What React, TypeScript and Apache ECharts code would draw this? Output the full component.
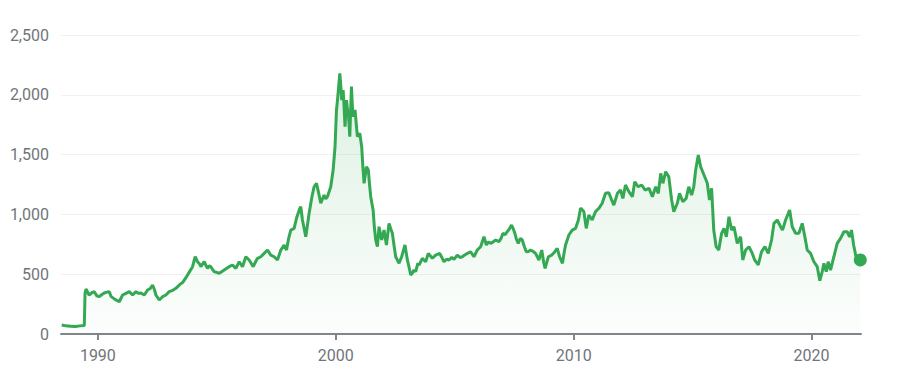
import React, { useEffect, useRef } from "react";
import * as echarts from "echarts";

const years: number[] = [
  1988.48, 1988.65, 1988.85, 1989.05, 1989.25, 1989.43, 1989.46, 1989.5, 1989.63, 1989.75, 1989.85, 1989.95,
  1990.06, 1990.17, 1990.27, 1990.38, 1990.48, 1990.55, 1990.65, 1990.76, 1990.9, 1991.04, 1991.18, 1991.32,
  1991.46, 1991.6, 1991.7, 1991.81, 1991.95, 1992.09, 1992.2, 1992.3, 1992.38, 1992.44, 1992.58, 1992.72,
  1992.86, 1993.0, 1993.15, 1993.28, 1993.45, 1993.56, 1993.68, 1993.77, 1993.88, 1993.98, 1994.09, 1994.19,
  1994.26, 1994.33, 1994.4, 1994.47, 1994.54, 1994.61, 1994.68, 1994.75, 1994.82, 1994.89, 1995.0, 1995.1,
  1995.2, 1995.31, 1995.42, 1995.52, 1995.66, 1995.8, 1995.94, 1996.08, 1996.22, 1996.36, 1996.45, 1996.53,
  1996.62, 1996.71, 1996.85, 1996.99, 1997.13, 1997.27, 1997.41, 1997.55, 1997.69, 1997.83, 1997.93, 1998.02,
  1998.11, 1998.25, 1998.35, 1998.49, 1998.53, 1998.6, 1998.74, 1998.88, 1999.0, 1999.09, 1999.19, 1999.28,
  1999.37, 1999.51, 1999.58, 1999.65, 1999.79, 1999.89, 1999.97, 2000.03, 2000.07, 2000.11, 2000.17, 2000.21,
  2000.25, 2000.31, 2000.35, 2000.39, 2000.45, 2000.49, 2000.53, 2000.59, 2000.66, 2000.7, 2000.73, 2000.81,
  2000.86, 2000.91, 2001.01, 2001.09, 2001.14, 2001.19, 2001.29, 2001.37, 2001.42, 2001.47, 2001.57, 2001.62,
  2001.68, 2001.75, 2001.82, 2001.93, 2002.03, 2002.13, 2002.24, 2002.31, 2002.38, 2002.45, 2002.52, 2002.66,
  2002.77, 2002.91, 2003.01, 2003.08, 2003.15, 2003.22, 2003.29, 2003.36, 2003.45, 2003.5, 2003.64, 2003.71,
  2003.78, 2003.89, 2004.06, 2004.2, 2004.37, 2004.46, 2004.55, 2004.66, 2004.76, 2004.88, 2004.97, 2005.11,
  2005.22, 2005.32, 2005.42, 2005.53, 2005.67, 2005.81, 2005.95, 2006.09, 2006.23, 2006.33, 2006.42, 2006.51,
  2006.62, 2006.72, 2006.86, 2006.95, 2007.03, 2007.12, 2007.21, 2007.3, 2007.39, 2007.46, 2007.53, 2007.6,
  2007.67, 2007.76, 2007.84, 2007.93, 2008.01, 2008.1, 2008.19, 2008.3, 2008.4, 2008.54, 2008.66, 2008.74,
  2008.8, 2008.87, 2008.94, 2009.08, 2009.21, 2009.31, 2009.41, 2009.53, 2009.6, 2009.66, 2009.8, 2009.94,
  2010.08, 2010.2, 2010.29, 2010.36, 2010.43, 2010.53, 2010.64, 2010.78, 2010.92, 2011.06, 2011.2, 2011.34,
  2011.48, 2011.6, 2011.69, 2011.84, 2011.97, 2012.07, 2012.18, 2012.32, 2012.47, 2012.57, 2012.71, 2012.86,
  2013.0, 2013.17, 2013.31, 2013.45, 2013.56, 2013.66, 2013.75, 2013.87, 2014.0, 2014.12, 2014.21, 2014.36,
  2014.45, 2014.59, 2014.73, 2014.84, 2014.96, 2015.05, 2015.13, 2015.24, 2015.34, 2015.48, 2015.62, 2015.71,
  2015.8, 2015.89, 2015.99, 2016.1, 2016.22, 2016.32, 2016.42, 2016.53, 2016.64, 2016.74, 2016.88, 2017.02,
  2017.11, 2017.23, 2017.37, 2017.51, 2017.61, 2017.76, 2017.9, 2018.04, 2018.18, 2018.32, 2018.42, 2018.56,
  2018.7, 2018.78, 2018.91, 2019.08, 2019.19, 2019.33, 2019.47, 2019.61, 2019.72, 2019.82, 2019.96, 2020.1,
  2020.24, 2020.35, 2020.45, 2020.52, 2020.62, 2020.7, 2020.8, 2020.94, 2021.08, 2021.22, 2021.36, 2021.5,
  2021.6, 2021.68, 2021.77, 2021.87, 2022.05,
];

const prices: number[] = [
  75, 68, 65, 62, 68, 72, 340, 376, 326, 345, 354, 320,
  312, 330, 343, 350, 354, 315, 300, 284, 270, 326, 340, 354,
  326, 354, 340, 343, 326, 368, 380, 410, 370, 326, 284, 312,
  326, 354, 365, 382, 415, 430, 465, 493, 530, 563, 646, 604,
  590, 563, 585, 604, 575, 549, 570, 563, 540, 521, 515, 507,
  520, 535, 550, 563, 577, 549, 604, 563, 646, 619, 590, 563,
  600, 633, 646, 674, 702, 660, 646, 619, 702, 744, 702, 800,
  869, 883, 967, 1051, 1064, 953, 813, 1009, 1150, 1231, 1260, 1180,
  1093, 1162, 1130, 1148, 1231, 1371, 1566, 1873, 1950, 2040, 2179, 2080,
  1956, 2040, 1900, 1733, 1956, 1880, 1845, 1650, 2068, 1900, 1817, 1873,
  1760, 1650, 1678, 1566, 1400, 1260, 1399, 1371, 1250, 1148, 1037, 900,
  786, 730, 897, 786, 869, 744, 925, 880, 842, 740, 646, 591,
  646, 744, 619, 560, 493, 510, 535, 521, 590, 577, 633, 619,
  604, 674, 633, 660, 674, 640, 604, 625, 619, 640, 624, 660,
  640, 646, 660, 674, 688, 646, 702, 730, 813, 744, 770, 758,
  770, 786, 772, 800, 842, 830, 855, 880, 911, 880, 842, 790,
  758, 800, 786, 730, 688, 690, 702, 690, 674, 619, 702, 600,
  549, 600, 646, 660, 688, 716, 646, 591, 680, 744, 828, 869,
  883, 953, 1051, 1040, 1023, 883, 995, 953, 1023, 1051, 1093, 1176,
  1181, 1120, 1078, 1176, 1204, 1134, 1246, 1190, 1148, 1273, 1231, 1246,
  1204, 1218, 1148, 1231, 1176, 1343, 1260, 1357, 1315, 1120, 1023, 1093,
  1176, 1106, 1134, 1231, 1162, 1231, 1371, 1496, 1399, 1329, 1260, 1120,
  1218, 869, 730, 702, 842, 883, 813, 981, 869, 897, 758, 813,
  619, 702, 730, 674, 619, 577, 688, 730, 674, 786, 925, 953,
  897, 869, 953, 1037, 897, 842, 842, 925, 813, 702, 674, 604,
  563, 446, 521, 591, 521, 604, 535, 646, 758, 800, 855, 855,
  813, 869, 744, 646, 619,
];

const xTicks: number[] = [1990, 2000, 2010, 2020];

const GREEN = "#34a853";
const LABEL = "#70757a";

export default function App() {
  const ref = useRef<HTMLDivElement>(null);
  useEffect(() => {
    if (!ref.current) return;
    const chart = echarts.init(ref.current, null, { renderer: "svg" });
    const data = years.map((y, i) => [y, prices[i]]);
    const last = data[data.length - 1];
    chart.setOption({
      animation: false,
      textStyle: { fontFamily: "Roboto, Arial, sans-serif" },
      grid: { left: 61, right: 58, top: 35, bottom: 47 },
      xAxis: {
        type: "value",
        min: 1988.45,
        max: 2022.08,
        splitLine: { show: false },
        axisLine: { show: true, onZero: false, lineStyle: { color: "#80868b", width: 2 } },
        axisTick: {
          show: true,
          customValues: xTicks,
          length: 6,
          lineStyle: { color: "#80868b", width: 2 },
        },
        axisLabel: {
          customValues: xTicks,
          formatter: (v: number) => String(Math.round(v)),
          color: LABEL,
          fontSize: 16,
          margin: 13,
        },
      },
      yAxis: {
        type: "value",
        min: 0,
        max: 2500,
        interval: 500,
        axisLine: { show: false },
        axisTick: { show: false },
        axisLabel: {
          color: LABEL,
          fontSize: 16,
          margin: 12,
          formatter: (v: number) => v.toLocaleString("en-US"),
        },
        splitLine: { lineStyle: { color: "#f1f1f1", width: 1 } },
      },
      series: [
        {
          type: "line",
          data,
          showSymbol: false,
          smooth: false,
          lineStyle: { color: GREEN, width: 3 },
          itemStyle: { color: GREEN },
          areaStyle: {
            color: new echarts.graphic.LinearGradient(0, 0, 0, 1, [
              { offset: 0, color: "rgba(52,168,83,0.24)" },
              { offset: 1, color: "rgba(52,168,83,0.02)" },
            ]),
          },
          z: 3,
        },
        {
          type: "scatter",
          data: [last],
          symbolSize: 13,
          itemStyle: { color: GREEN, opacity: 1 },
          z: 4,
        },
      ],
    });
    return () => chart.dispose();
  }, []);
  return (
    <div
      ref={ref}
      style={{ position: "fixed", left: 0, top: 0, width: 919, height: 381, background: "#fff" }}
    />
  );
}
